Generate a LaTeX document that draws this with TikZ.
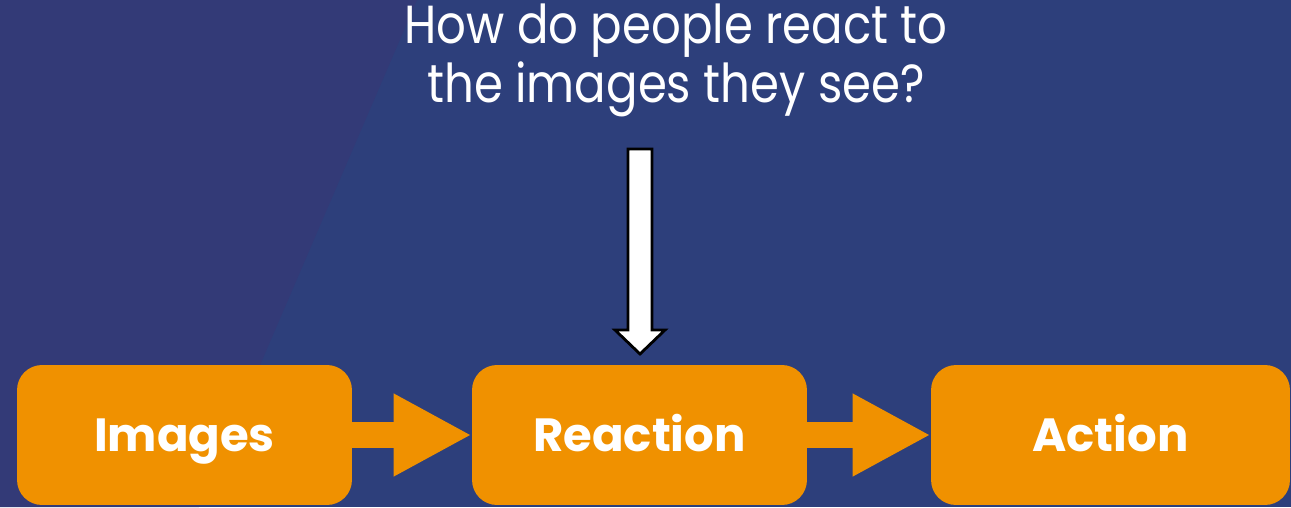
\documentclass[tikz,border=0pt]{standalone}
\usepackage{fontspec}
\setmainfont{Poppins}
\newfontfamily\headfont{Poppins}[FakeStretch=0.87]
\usetikzlibrary{arrows.meta,calc}
\definecolor{slideblue}{HTML}{2D3F7B}
\definecolor{slidepurple}{HTML}{333A77}
\definecolor{boxorange}{HTML}{F09100}

\begin{document}
\begin{tikzpicture}[
  x=0.02cm, y=-0.02cm,
  stage/.style={rectangle, rounded corners=0.5cm, fill=boxorange, draw=none,
                minimum width=6.7cm, minimum height=2.8cm, text=white,
                text height=19pt, text depth=0pt,
                font=\fontsize{26.5}{30}\selectfont\bfseries},
  blockarr/.style={boxorange, line width=0.52cm,
                   -{Triangle[length=1.56cm, width=1.54cm]}},
  question/.style={text=white, align=center,
                   font=\headfont\fontsize{30.5}{33.5}\selectfont}
]
\fill[slideblue] (0,0) rectangle (1291,507);
\fill[slidepurple] (0,0) -- (417,0) -- (199,507) -- (0,507) -- cycle;
\useasboundingbox (0,0) rectangle (1291,507);

\node[stage] (img) at (184.5,435) {Images};
\node[stage] (react) at (639.5,435) {Reaction};
\node[stage, minimum width=7.18cm] (act) at (1110.5,435) {Action};

\node[question, anchor=base] (q) at (676,102) {How do people react to\\the images they see?};

\draw[blockarr] (img.east) -- (react.west);
\draw[blockarr] (react.east) -- (act.west);

\coordinate (dtop) at (640,149);
\coordinate (dtip) at (640,354);
\draw[fill=white, draw=black, line width=1.6pt, line join=miter]
  ($(dtop)+(-12,0)$) -- ($(dtop)+(12,0)$) -- ($(dtip)+(12,-24)$)
  -- ($(dtip)+(25,-24)$) -- (dtip) -- ($(dtip)+(-25,-24)$)
  -- ($(dtip)+(-12,-24)$) -- cycle;
\end{tikzpicture}
\end{document}
